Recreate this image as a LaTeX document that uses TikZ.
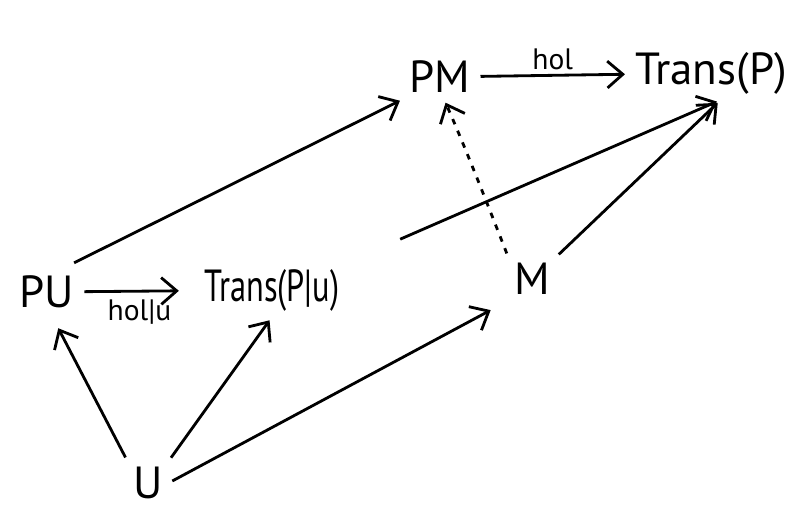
\documentclass[tikz,border=0pt]{standalone}
\usepackage{fontspec}
\setmainfont{PT Sans}
\usetikzlibrary{arrows.meta}
\tikzset{obj/.style={font=\fontsize{32}{38}\selectfont, inner sep=4pt},text centered}
\tikzset{map/.style={-{Straight Barb[length=11pt,width=19pt]}, line width=2pt, shorten <=3pt, shorten >=3pt}}
\tikzset{lbl/.style={font=\fontsize{21}{24}\selectfont, inner sep=3pt}}

\begin{document}
\begin{tikzpicture}[x=0.025cm, y=-0.025cm]%[x=1pt, y=-1pt]
  \useasboundingbox (0,0) rectangle (793,511);
  \node [obj] (pm) at (440,77) {PM};
  \node [obj] (transp) at (711,73) {Trans(P)};
  \node [obj] (pu) at (47,292) {PU};
  \node [obj] (transpu) at (272,290) {\scalebox{0.72}[1]{Trans(P|u)}};
  \node [obj] (m) at (532,279) {M};
  \node [obj] (u) at (148,483) {U};

  \draw [map] (pm) -- node [lbl, above] {hol} (transp);
  \draw [map, shorten >=0.5cm] (pu) -- node [lbl, below, yshift=-2pt] {hol|u} (transpu);
  \draw [map, shorten <=0.4cm] (pu.60) -- (pm.south west);
  \draw [map, shorten <=1.5cm] (transpu.north east) -- (transp.290);
  \draw [map] (m.north east) -- (transp.290);
  \draw [map, shorten >=0.4cm] (u.north west) -- (pu.-80);
  \draw [map] (u.north east) -- (transpu.south);
  \draw [map, shorten >=0.5cm] (u.east) -- (m.south west);
  \draw [map, dash pattern=on 4pt off 5pt] (m.north west) .. controls (482,190) and (462,140) .. (pm.-80);
\end{tikzpicture}
\end{document}
